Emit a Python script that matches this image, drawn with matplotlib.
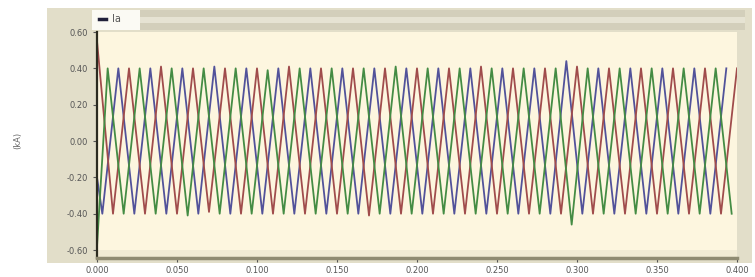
import matplotlib
matplotlib.use("Agg")
import matplotlib.pyplot as plt
from matplotlib.patches import Rectangle
import numpy as np

# three phase current, extreme values (kA)
half_period = 0.01
red_t0 = 0.0
red_vals = [0.55, -0.40, 0.40, -0.40, 0.41, -0.40, 0.40, -0.39, 0.40, -0.40,
            0.40, -0.40, 0.41, -0.40, 0.40, -0.40, 0.40, -0.41, 0.40, -0.40,
            0.40, -0.40, 0.40, -0.40, 0.41, -0.40, 0.40, -0.40, 0.40, -0.40,
            0.41, -0.40, 0.40, -0.40, 0.40, -0.40, 0.40, -0.40, 0.40, -0.40,
            0.40]
green_start = -0.58
green_t0 = 0.00667
green_vals = [0.40, -0.40, 0.40, -0.40, 0.40, -0.41, 0.40, -0.40, 0.40, -0.40,
              0.39, -0.40, 0.40, -0.40, 0.40, -0.40, 0.40, -0.40, 0.41, -0.40,
              0.40, -0.40, 0.40, -0.40, 0.40, -0.40, 0.40, -0.40, 0.40, -0.46,
              0.40, -0.40, 0.40, -0.40, 0.40, -0.40, 0.40, -0.40, 0.40, -0.40]
blue_start = -0.20
blue_t0 = 0.00333
blue_vals = [-0.40, 0.40, -0.40, 0.40, -0.40, 0.40, -0.40, 0.41, -0.40, 0.40,
             -0.40, 0.40, -0.40, 0.40, -0.40, 0.40, -0.40, 0.40, -0.40, 0.40,
             -0.40, 0.40, -0.40, 0.40, -0.40, 0.40, -0.40, 0.40, -0.40, 0.44,
             -0.40, 0.40, -0.40, 0.40, -0.40, 0.40, -0.40, 0.40, -0.40, 0.40]

x_ticks = [0.0, 0.05, 0.1, 0.15, 0.2, 0.25, 0.3, 0.35, 0.4]
y_ticks = [0.6, 0.4, 0.2, 0.0, -0.2, -0.4, -0.6]
legend_label = "Ia"
y_label = "(kA)"

W, H = 755, 277
fig = plt.figure(figsize=(W / 100, H / 100), dpi=100)
fig.patch.set_facecolor("white")


def fx(px):
    return px / W


def fy(py):
    return 1 - py / H


def box(x0, y0, x1, y1, color, z):
    fig.add_artist(Rectangle((fx(x0), fy(y1)), fx(x1 - x0), (y1 - y0) / H,
                             transform=fig.transFigure, facecolor=color,
                             edgecolor="none", zorder=z))


# grey-beige frame around the plot, title bar and legend box
box(47, 8, 752, 263, "#e2dec9", -5)
box(140, 10, 745, 30, "#d3cfbb", -4)
box(140, 17, 745, 23, "#e6e3d3", -3)
box(92, 10, 140, 30, "#fbfaf4", -3)
fig.add_artist(plt.Line2D([fx(99), fx(106)], [fy(19), fy(19)],
                          transform=fig.transFigure, color="#20203a", lw=2.5))
fig.text(fx(112), fy(19), legend_label, fontsize=7, color="#555555",
         va="center", ha="left")

ax = fig.add_axes([fx(97), fy(258), fx(737 - 97), (258 - 32) / H])
ax.set_facecolor("#fdf6df")
ax.axhspan(-0.65, -0.6, color="#f1ebd4", zorder=0, lw=0)

red_t = red_t0 + half_period * np.arange(len(red_vals))
green_t = np.concatenate([[0.0], green_t0 + half_period * np.arange(len(green_vals))])
blue_t = np.concatenate([[0.0], blue_t0 + half_period * np.arange(len(blue_vals))])

ax.plot(blue_t, [blue_start] + blue_vals, color="#52529a", lw=1.3)
ax.plot(red_t, red_vals, color="#a04c4c", lw=1.3)
ax.plot(green_t, [green_start] + green_vals, color="#448c44", lw=1.3)

ax.set_xlim(0, 0.4)
ax.set_ylim(-0.6436, 0.6)
ax.set_xticks(x_ticks)
ax.set_xticklabels([f"{v:.3f}" for v in x_ticks])
ax.set_yticks(y_ticks)
ax.set_yticklabels([f"{v:.2f}" for v in y_ticks])
ax.tick_params(labelsize=6, colors="#555555", length=3, width=0.8)
ax.tick_params(axis="x", pad=3)

for side in ["top", "right"]:
    ax.spines[side].set_visible(False)
ax.spines["left"].set_color("#2b2b20")
ax.spines["left"].set_linewidth(1.6)
ax.spines["bottom"].set_color("#8f8b72")
ax.spines["bottom"].set_linewidth(2.5)

fig.text(fx(18), fy(140), y_label, rotation=90, fontsize=6, color="#666666",
         va="center", ha="center")

fig.savefig("out.png", dpi=100, facecolor=fig.get_facecolor())
